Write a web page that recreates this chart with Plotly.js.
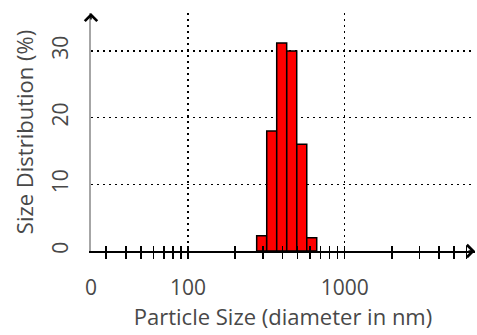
<!DOCTYPE html>
<html>
<head>
<meta charset="utf-8">
<script src="https://cdn.plot.ly/plotly-3.0.1.min.js"></script>
<style>html,body{margin:0;padding:0;background:#fff}#chart{width:477px;height:335px}</style>
</head>
<body>
<div id="chart"></div>
<script>
// Data
const sizes = [295, 342, 396, 459, 532, 616];          // bin centres, nm
const distribution = [2.3, 18, 31.2, 30, 16, 2];       // %
const majorTickSizes = [100, 1000];
const majorTickLabels = ['100', '1000'];
const originLabel = '0';
const minorTickSizes = [30,40,50,60,70,80,90,100,200,300,400,500,600,700,800,900,1000,2000,3000,4000,5000,6000];
const yTicks = [0, 10, 20, 30];
const xTitle = 'Particle Size (diameter in nm)';
const yTitle = 'Size Distribution (%)';

const xMin = 24, xMax = 6790;
const lg = v => Math.log10(v);
const xRange = [lg(xMin), lg(xMax)];
const textColor = '#484848';
const fam = 'Open Sans, sans-serif';

const traces = [
  {type: 'bar', x: sizes.map(lg), y: distribution, xaxis: 'x', yaxis: 'y',
   marker: {color: '#ff0000', line: {color: '#000000', width: 1.5}}, hoverinfo: 'skip'},
  {type: 'scatter', x: [], y: [], xaxis: 'x2', yaxis: 'y', hoverinfo: 'skip', showlegend: false},
  {type: 'scatter', x: [], y: [], xaxis: 'x3', yaxis: 'y', hoverinfo: 'skip', showlegend: false},
  {type: 'scatter', x: [], y: [], xaxis: 'x4', yaxis: 'y', hoverinfo: 'skip', showlegend: false}
];

const layout = {
  width: 477, height: 335,
  margin: {l: 91, r: 2, t: 13, b: 84},
  paper_bgcolor: '#ffffff', plot_bgcolor: '#ffffff',
  showlegend: false, bargap: 0,
  font: {family: fam, size: 21, color: textColor},
  xaxis: {
    range: xRange, anchor: 'y',
    tickmode: 'array', tickvals: [xRange[0]].concat(majorTickSizes.map(lg)),
    ticktext: [originLabel].concat(majorTickLabels),
    ticks: 'outside', ticklen: 17, tickcolor: 'rgba(0,0,0,0)',
    tickfont: {family: fam, size: 21, color: textColor},
    showgrid: false, zeroline: false,
    showline: true, linecolor: '#000000', linewidth: 1.5,
    title: {text: xTitle, font: {family: fam, size: 22, color: textColor}, standoff: 8}
  },
  xaxis2: {
    range: xRange, overlaying: 'x', anchor: 'y',
    tickmode: 'array', tickvals: minorTickSizes.map(lg),
    ticks: 'outside', ticklen: 7, tickwidth: 1.5, tickcolor: '#000000',
    showticklabels: false, showgrid: false, zeroline: false, showline: false
  },
  xaxis3: {
    range: xRange, overlaying: 'x', anchor: 'y',
    tickmode: 'array', tickvals: minorTickSizes.map(lg),
    ticks: 'inside', ticklen: 5, tickwidth: 1.5, tickcolor: '#000000',
    showticklabels: false, showgrid: false, zeroline: false, showline: false
  },
  xaxis4: {
    range: xRange, overlaying: 'x', anchor: 'y',
    tickmode: 'array', tickvals: majorTickSizes.map(lg),
    ticks: '', showticklabels: false,
    showgrid: true, gridcolor: '#000000', gridwidth: 1.5, griddash: '2px,4px',
    zeroline: false, showline: false
  },
  yaxis: {
    range: [0, 35.7],
    tickmode: 'array', tickvals: yTicks,
    ticks: 'outside', ticklen: 13, tickcolor: 'rgba(0,0,0,0)',
    tickangle: -90,
    tickfont: {family: fam, size: 21, color: textColor},
    showgrid: true, gridcolor: '#000000', gridwidth: 1.5, griddash: '2px,4px',
    zeroline: false,
    showline: true, linecolor: '#a6a6a6', linewidth: 2,
    title: {text: yTitle, font: {family: fam, size: 22, color: textColor}, standoff: 6}
  },
  annotations: [
    {xref: 'paper', yref: 'paper', x: 0, y: 1, ax: 0, ay: 8, axref: 'pixel', ayref: 'pixel',
     text: '', showarrow: true, arrowhead: 4, arrowsize: 1.6, arrowwidth: 1.5, arrowcolor: '#000000', standoff: 0},
    {xref: 'paper', yref: 'paper', x: 1, y: 0, ax: -8, ay: 0, axref: 'pixel', ayref: 'pixel',
     text: '', showarrow: true, arrowhead: 4, arrowsize: 1.6, arrowwidth: 1.5, arrowcolor: '#000000', standoff: 0}
  ]
};

Plotly.newPlot('chart', traces, layout, {displayModeBar: false, staticPlot: true});
</script>
</body>
</html>
